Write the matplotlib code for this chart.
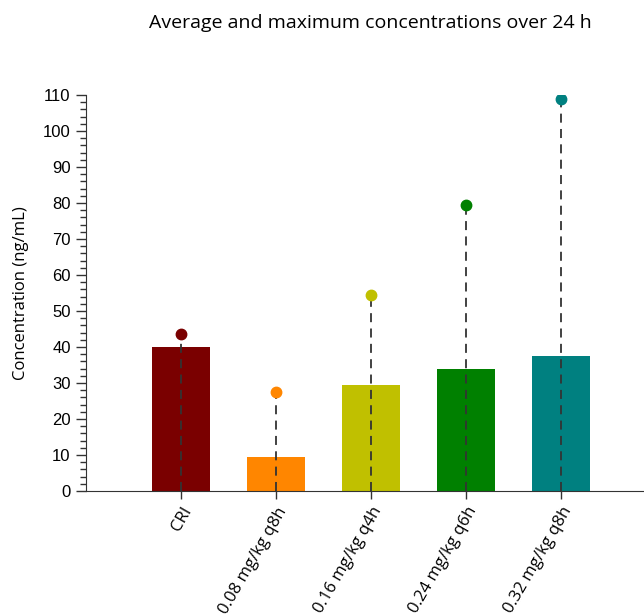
import matplotlib.pyplot as plt
from matplotlib.ticker import MultipleLocator

# data
groups = ["CRI", "0.08 mg/kg q8h", "0.16 mg/kg q4h", "0.24 mg/kg q6h", "0.32 mg/kg q8h"]
average = [40.0, 9.5, 29.5, 34.0, 37.5]
maximum = [43.7, 27.5, 54.5, 79.5, 109.0]
colors = ["#7a0000", "#ff8600", "#c0c000", "#008000", "#008080"]

fig = plt.figure(figsize=(6.44, 6.15), dpi=100)
ax = fig.add_axes([0.1335, 0.2016, 0.8665, 0.6439])

x = list(range(len(groups)))
ax.bar(x, average, width=0.61, color=colors, zorder=1)

for xi, m, c in zip(x, maximum, colors):
    ax.plot([xi, xi], [0, m], color="#333333", lw=1.3, ls=(0, (5, 3.5)), zorder=2)
    ax.plot(xi, m, "o", color=c, ms=7.5, zorder=3)

ax.set_xlim(-1.0, 4.87)
ax.set_ylim(0, 110)
ax.yaxis.set_major_locator(MultipleLocator(10))
ax.yaxis.set_minor_locator(MultipleLocator(2))

for side in ["top", "right"]:
    ax.spines[side].set_visible(False)
ax.spines["left"].set_color("#333333")
ax.spines["bottom"].set_color("#333333")

ax.tick_params(axis="y", which="major", length=7, width=1, pad=4, colors="#333333",
               labelsize=12, labelcolor="black")
ax.tick_params(axis="y", which="minor", length=4, width=1, colors="#333333")
ax.tick_params(axis="x", length=6, width=1, colors="#333333", labelcolor="black")
for lab in ax.get_yticklabels():
    lab.set_family("Liberation Sans")

ax.set_xticks(x)
ax.set_xticklabels(groups, rotation=60, ha="right", rotation_mode="anchor",
                   fontsize=12, family="Open Sans")

ax.set_ylabel("Concentration (ng/mL)", fontsize=12, family="Open Sans", labelpad=10)

fig.text(0.575, 0.963, "Average and maximum concentrations over 24 h",
         ha="center", va="center", fontsize=14, family="Open Sans")

fig.savefig("out.png", dpi=100)
